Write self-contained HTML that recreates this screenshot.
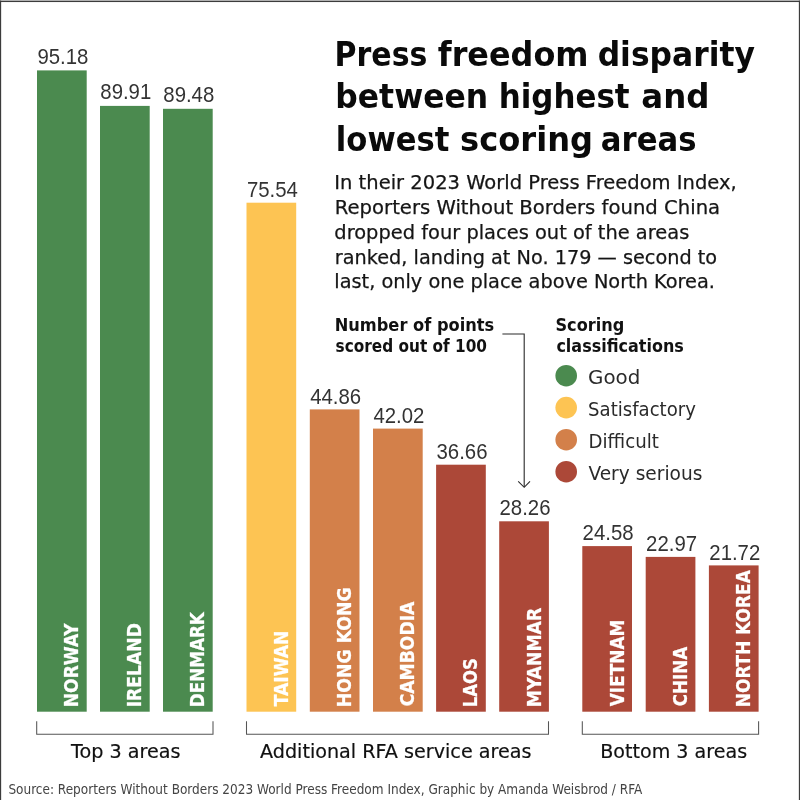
<!DOCTYPE html>
<html lang="en"><head><meta charset="utf-8"><title>Press freedom disparity</title>
<style>
html,body{margin:0;padding:0;background:#fff;}
body{width:800px;height:800px;overflow:hidden;position:relative;}
svg{display:block;position:absolute;left:0;top:0;}
.t{font-family:"DejaVu Sans","Liberation Sans",sans-serif;font-weight:bold;font-size:33px;}
.p{font-family:"DejaVu Sans","Liberation Sans",sans-serif;font-weight:normal;font-size:19.8px;}
.h{font-family:"DejaVu Sans","Liberation Sans",sans-serif;font-weight:bold;font-size:17.3px;}
.grp{font-family:"DejaVu Sans","Liberation Sans",sans-serif;font-weight:normal;font-size:20.2px;}
.src{font-family:"DejaVu Sans Condensed","DejaVu Sans","Liberation Sans",sans-serif;font-weight:normal;font-size:13.3px;}
.lab{font-family:"DejaVu Sans Condensed","DejaVu Sans","Liberation Sans",sans-serif;font-weight:bold;font-size:19.6px;}
.val{font-family:"Liberation Sans","DejaVu Sans",sans-serif;font-weight:normal;font-size:22px;}
.lg{font-family:"DejaVu Sans","Liberation Sans",sans-serif;font-weight:normal;font-size:20px;}
.val{fill:#333;}
.lab{fill:#fff;stroke:#fff;stroke-width:0.25px;}
.grp{fill:#111;stroke:#111;stroke-width:0.2px;}
.p{fill:#151515;stroke:#151515;stroke-width:0.25px;}
.t{fill:#0a0a0a;}
.h{fill:#111;}
.lg{fill:#2a2a2a;}
.src{fill:#444;}
</style></head><body>
<svg width="800" height="800" viewBox="0 0 800 800">
<rect x="0" y="0" width="800" height="800" fill="#fff"/>
<rect x="0" y="0.6" width="800" height="1.45" fill="#3c3c3c"/>
<rect x="0" y="0.6" width="1.15" height="800" fill="#3c3c3c"/>
<rect x="798.85" y="0.6" width="1.15" height="800" fill="#3c3c3c"/>
<rect x="37.0" y="70.4" width="49.7" height="641.3" fill="#4b8a4f"/>
<text class="val" x="62.9" y="63.8" text-anchor="middle" textLength="51" lengthAdjust="spacingAndGlyphs">95.18</text>
<text class="lab" x="-0.97" y="0" textLength="84.04" lengthAdjust="spacingAndGlyphs" transform="translate(78.3 706.3) rotate(-90)">NORWAY</text>
<rect x="100.0" y="105.9" width="49.7" height="605.8" fill="#4b8a4f"/>
<text class="val" x="125.8" y="99.1" text-anchor="middle" textLength="51" lengthAdjust="spacingAndGlyphs">89.91</text>
<text class="lab" x="-0.97" y="0" textLength="84.20" lengthAdjust="spacingAndGlyphs" transform="translate(141.3 706.3) rotate(-90)">IRELAND</text>
<rect x="163.0" y="108.8" width="49.7" height="602.9" fill="#4b8a4f"/>
<text class="val" x="188.8" y="102.3" text-anchor="middle" textLength="51" lengthAdjust="spacingAndGlyphs">89.48</text>
<text class="lab" x="-0.95" y="0" textLength="95.08" lengthAdjust="spacingAndGlyphs" transform="translate(204.3 706.3) rotate(-90)">DENMARK</text>
<rect x="246.5" y="202.7" width="49.7" height="509.0" fill="#fdc453"/>
<text class="val" x="272.4" y="197.3" text-anchor="middle" textLength="51" lengthAdjust="spacingAndGlyphs">75.54</text>
<text class="lab" x="0.00" y="0" textLength="75.73" lengthAdjust="spacingAndGlyphs" transform="translate(287.8 706.3) rotate(-90)">TAIWAN</text>
<rect x="309.8" y="409.4" width="49.7" height="302.3" fill="#d3804a"/>
<text class="val" x="335.7" y="403.7" text-anchor="middle" textLength="51" lengthAdjust="spacingAndGlyphs">44.86</text>
<text class="lab" x="-0.98" y="0" textLength="119.94" lengthAdjust="spacingAndGlyphs" transform="translate(351.1 706.3) rotate(-90)">HONG KONG</text>
<rect x="373.0" y="428.6" width="49.7" height="283.1" fill="#d3804a"/>
<text class="val" x="398.9" y="423.3" text-anchor="middle" textLength="51" lengthAdjust="spacingAndGlyphs">42.02</text>
<text class="lab" x="0.00" y="0" textLength="104.65" lengthAdjust="spacingAndGlyphs" transform="translate(414.3 706.3) rotate(-90)">CAMBODIA</text>
<rect x="436.1" y="464.7" width="49.7" height="247.0" fill="#ac4838"/>
<text class="val" x="462.0" y="459.0" text-anchor="middle" textLength="51" lengthAdjust="spacingAndGlyphs">36.66</text>
<text class="lab" x="-0.93" y="0" textLength="48.98" lengthAdjust="spacingAndGlyphs" transform="translate(477.4 706.3) rotate(-90)">LAOS</text>
<rect x="499.2" y="521.3" width="49.7" height="190.4" fill="#ac4838"/>
<text class="val" x="525.0" y="515.3" text-anchor="middle" textLength="51" lengthAdjust="spacingAndGlyphs">28.26</text>
<text class="lab" x="-0.98" y="0" textLength="99.56" lengthAdjust="spacingAndGlyphs" transform="translate(540.5 706.3) rotate(-90)">MYANMAR</text>
<rect x="582.3" y="546.1" width="49.7" height="165.6" fill="#ac4838"/>
<text class="val" x="608.1" y="539.8" text-anchor="middle" textLength="51" lengthAdjust="spacingAndGlyphs">24.58</text>
<text class="lab" x="0.00" y="0" textLength="86.79" lengthAdjust="spacingAndGlyphs" transform="translate(623.6 706.3) rotate(-90)">VIETNAM</text>
<rect x="645.7" y="556.9" width="49.7" height="154.8" fill="#ac4838"/>
<text class="val" x="671.6" y="551.4" text-anchor="middle" textLength="51" lengthAdjust="spacingAndGlyphs">22.97</text>
<text class="lab" x="0.00" y="0" textLength="59.66" lengthAdjust="spacingAndGlyphs" transform="translate(687.0 706.3) rotate(-90)">CHINA</text>
<rect x="708.9" y="565.4" width="49.7" height="146.3" fill="#ac4838"/>
<text class="val" x="734.8" y="559.9" text-anchor="middle" textLength="51" lengthAdjust="spacingAndGlyphs">21.72</text>
<text class="lab" x="-0.96" y="0" textLength="137.12" lengthAdjust="spacingAndGlyphs" transform="translate(750.2 706.3) rotate(-90)">NORTH KOREA</text>
<path d="M36.7 721.3 V734.2 H213.0 V721.3" fill="none" stroke="#555" stroke-width="1.05"/>
<path d="M246.5 721.3 V734.2 H548.5 V721.3" fill="none" stroke="#555" stroke-width="1.05"/>
<path d="M582.3 721.3 V734.2 H758.6 V721.3" fill="none" stroke="#555" stroke-width="1.05"/>
<text class="grp" x="70.95" y="758" textLength="109.54" lengthAdjust="spacingAndGlyphs">Top 3 areas</text>
<text class="grp" x="260.00" y="758" textLength="271.49" lengthAdjust="spacingAndGlyphs">Additional RFA service areas</text>
<text class="grp" x="600.25" y="758" textLength="146.84" lengthAdjust="spacingAndGlyphs">Bottom 3 areas</text>
<text class="t" x="334.47" y="65.5" textLength="92.91" lengthAdjust="spacingAndGlyphs">Press</text>
<text class="t" x="437.80" y="65.5" textLength="150.70" lengthAdjust="spacingAndGlyphs">freedom</text>
<text class="t" x="597.65" y="65.5" textLength="157.34" lengthAdjust="spacingAndGlyphs">disparity</text>
<text class="t" x="335.30" y="108.3" textLength="152.88" lengthAdjust="spacingAndGlyphs">between</text>
<text class="t" x="498.73" y="108.3" textLength="130.86" lengthAdjust="spacingAndGlyphs">highest</text>
<text class="t" x="641.32" y="108.3" textLength="68.26" lengthAdjust="spacingAndGlyphs">and</text>
<text class="t" x="335.84" y="151.3" textLength="113.55" lengthAdjust="spacingAndGlyphs">lowest</text>
<text class="t" x="460.03" y="151.3" textLength="133.03" lengthAdjust="spacingAndGlyphs">scoring</text>
<text class="t" x="600.87" y="151.3" textLength="95.73" lengthAdjust="spacingAndGlyphs">areas</text>
<text class="p" x="334.31" y="189.2" textLength="402.46" lengthAdjust="spacingAndGlyphs">In their 2023 World Press Freedom Index,</text>
<text class="p" x="334.81" y="214" textLength="385.30" lengthAdjust="spacingAndGlyphs">Reporters Without Borders found China</text>
<text class="p" x="334.32" y="238.8" textLength="354.98" lengthAdjust="spacingAndGlyphs">dropped four places out of the areas</text>
<text class="p" x="334.83" y="263.5" textLength="382.27" lengthAdjust="spacingAndGlyphs">ranked, landing at No. 179 — second to</text>
<text class="p" x="334.32" y="288.4" textLength="380.63" lengthAdjust="spacingAndGlyphs">last, only one place above North Korea.</text>
<text class="h" x="334.66" y="330.6" textLength="159.61" lengthAdjust="spacingAndGlyphs">Number of points</text>
<text class="h" x="335.60" y="352" textLength="151.42" lengthAdjust="spacingAndGlyphs">scored out of 100</text>
<text class="h" x="555.47" y="330.6" textLength="68.81" lengthAdjust="spacingAndGlyphs">Scoring</text>
<text class="h" x="556.40" y="352" textLength="127.46" lengthAdjust="spacingAndGlyphs">classifications</text>
<path d="M502.4 334 H524.2 V487" fill="none" stroke="#2a2a2a" stroke-width="1.1"/>
<path d="M518.2 481.4 L524.2 487.3 L530 481.4" fill="none" stroke="#2a2a2a" stroke-width="1.1"/>
<circle cx="566.2" cy="375.7" r="10.8" fill="#4b8a4f"/>
<text class="lg" x="588.01" y="384.0" textLength="52.28" lengthAdjust="spacingAndGlyphs">Good</text>
<circle cx="566.2" cy="407.6" r="10.8" fill="#fdc453"/>
<text class="lg" x="588.10" y="415.9" textLength="107.76" lengthAdjust="spacingAndGlyphs">Satisfactory</text>
<circle cx="566.2" cy="439.7" r="10.8" fill="#d3804a"/>
<text class="lg" x="588.49" y="448.0" textLength="70.37" lengthAdjust="spacingAndGlyphs">Difficult</text>
<circle cx="566.2" cy="471.7" r="10.8" fill="#ac4838"/>
<text class="lg" x="588.40" y="480.0" textLength="113.99" lengthAdjust="spacingAndGlyphs">Very serious</text>
<text class="src" x="8.40" y="793.5" textLength="633.77" lengthAdjust="spacingAndGlyphs">Source: Reporters Without Borders 2023 World Press Freedom Index, Graphic by Amanda Weisbrod / RFA</text>
</svg>
</body></html>
